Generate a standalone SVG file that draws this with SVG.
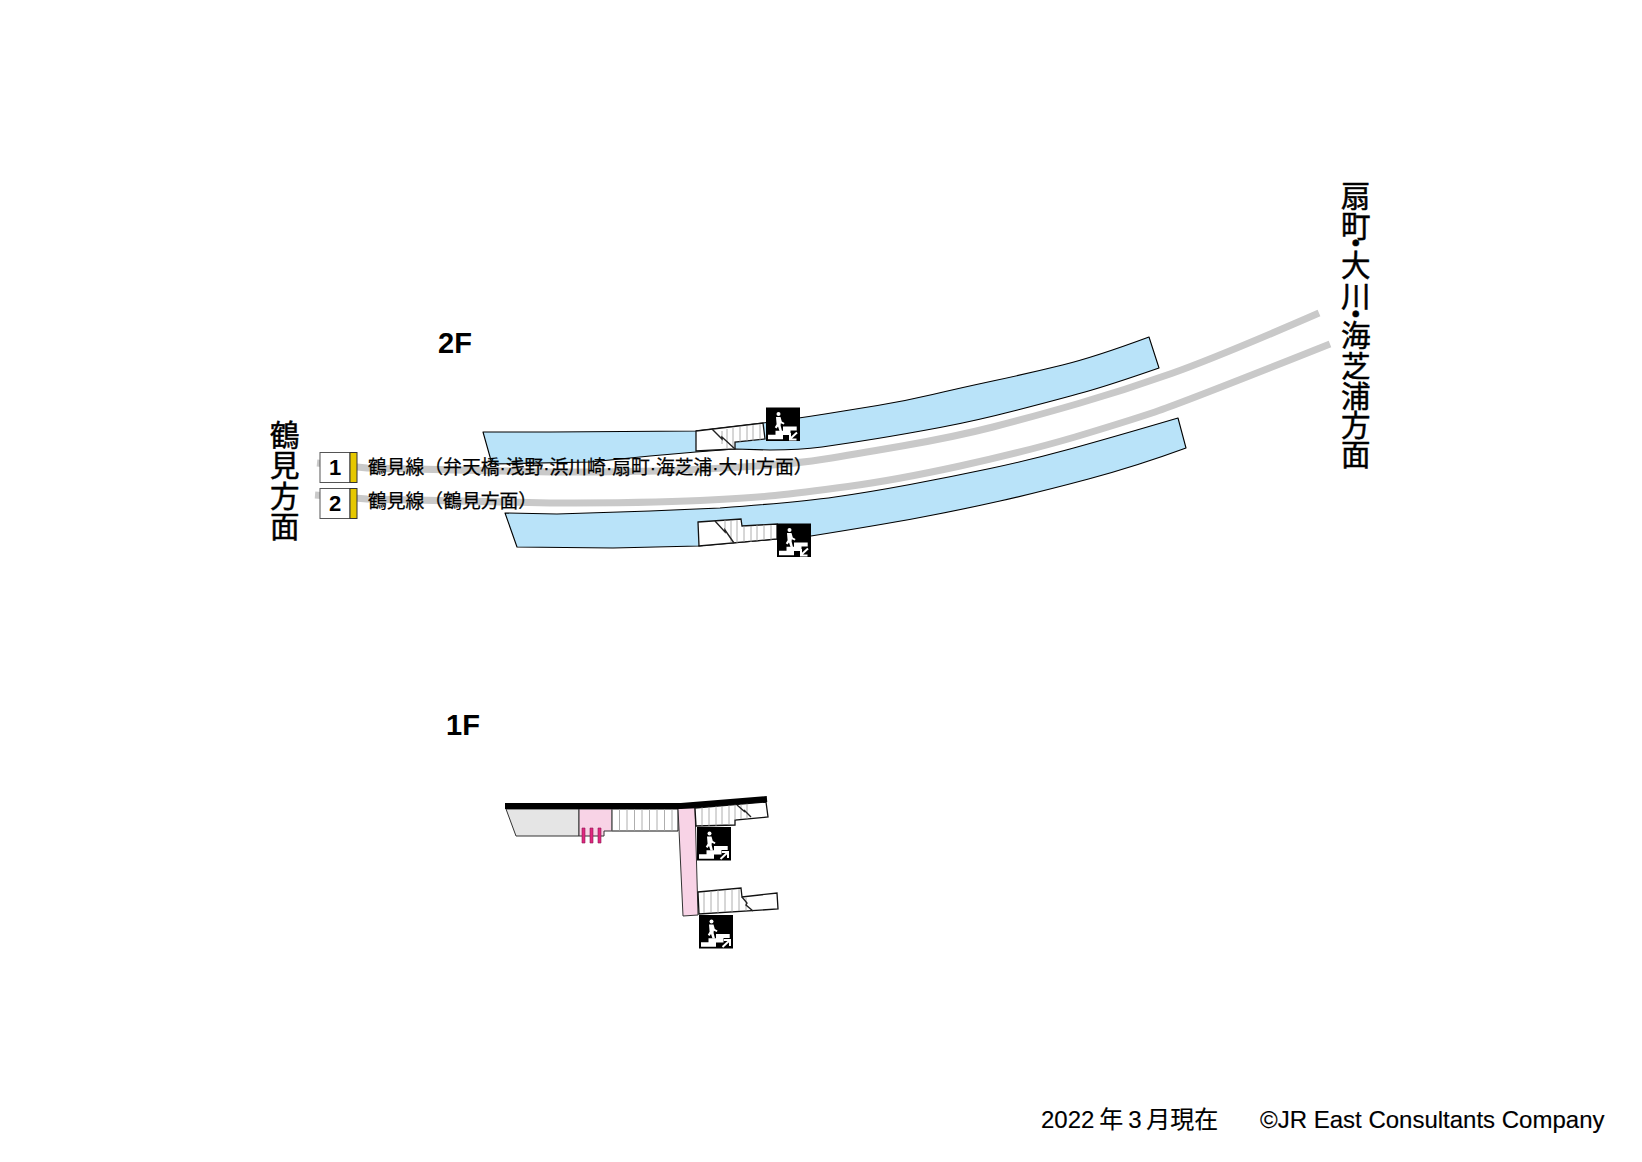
<svg xmlns="http://www.w3.org/2000/svg" xmlns:xlink="http://www.w3.org/1999/xlink" width="1642" height="1162" viewBox="0 0 1642 1162">
<style>
text{font-family:"Liberation Sans","Noto Sans CJK JP",sans-serif;fill:#000}
.plat{fill:#b9e3f9;stroke:#000;stroke-width:1.1;stroke-linejoin:round}
.track{fill:none;stroke:#c9c9c9;stroke-width:7}
.stair{fill:#fff;stroke:#111;stroke-width:1.3}
.hatch{fill:none;stroke:#999;stroke-width:.8}
.diag{fill:none;stroke:#222;stroke-width:1.4}
.pink{fill:#f8d3e6;stroke:#333;stroke-width:1}
.box{fill:#fff;stroke:#555;stroke-width:1}
.yel{fill:#e6c800;stroke:#333;stroke-width:1}
.lbl{font-size:18.8px;stroke:#000;stroke-width:.25}
.big{font-size:29.5px;stroke:#000;stroke-width:.5}
.fl{font-size:29px;font-weight:700}
.no{font-size:22px;font-weight:700;text-anchor:middle}
.foot{font-size:24px;stroke:#000;stroke-width:.15}
.gate{fill:#e0287f;stroke:#8a1a50;stroke-width:.6}
</style>
<defs>
<g id="ic-base">
<rect width="34" height="33.500" fill="#000"/>
<circle cx="12.500" cy="6.500" r="2" fill="#fff"/>
<path d="M10 9.500 L14.500 9.500 L15.800 14 L18.500 15.500 L17.800 17 L14.800 15.800 L14.600 18 L16 23.500 L13.500 23.500 L12 19 L10.500 21 L8.800 19.800 L10.600 16.800 Z" fill="#fff"/>
<path d="M2 31.700 V27.300 H9.500 V23.300 H17 V19 H30.700 V23 H24.500 V27.500 H17 V31.700 Z" fill="#fff"/>
</g>
<g id="ic-up"><use xlink:href="#ic-base"/><path d="M23.500 32 L30.500 25.500 M24.800 25 H31 V31" fill="none" stroke="#fff" stroke-width="2"/></g>
<g id="ic-down"><use xlink:href="#ic-base"/><path d="M31 25 L24 31.500 M24 25.500 V32 H30.500" fill="none" stroke="#fff" stroke-width="2"/></g>
</defs>
<rect width="1642" height="1162" fill="#fff"/>

<g id="connectors">
<path class="track" d="M317 463 L367 468 L550 472 Q640 472 685 470 Q730 468 765 465.500 Q800 463 825 459 Q850 455 902 446 Q954 437 993 427 Q1032 417 1078.500 403.500 Q1125 390 1171.500 373.500 Q1218 357 1319 313"/>
<path class="track" d="M315 495 L367 499 L550 503 Q650 503 700 500.500 Q750 498 775 495.500 Q800 493 848 486.500 Q896 480 960 466 Q1024 452 1075 437 Q1125 422 1155 412 Q1187 401 1330 344"/>
</g>

<g id="platform-1">
<path class="plat" d="M483 432 L550 432 L696 431 L763 423 Q800 418 825 414 Q850 410 877.500 405.500 Q905 401 932.500 394.500 Q960 388 995 380.500 Q1030 373 1062.500 365 Q1095 357 1149 337 L1159 368 Q1110 385 1085 392 Q1060 399 1017.500 410 Q975 421 940 427.500 Q905 434 877.500 438.500 Q850 443 822 447 Q800 450 770 450 L735 449 L696 452 L650 456 L590 462 L492 464 Z"/>
<path class="stair" d="M696 431 L763 423 L765 439 L735 442 L735 449 L696 451 Z"/>
<path class="hatch" d="M722 431V444M727 429V448M733 428V449M740 427V442M747 426V441M753 425V441M760 424V440"/>
<path class="diag" d="M712 429 L722 439 L722 437 L735 449"/>
<use xlink:href="#ic-down" x="766" y="407.500"/>
</g>
<g id="platform-2">
<path class="plat" d="M505 513 L557 514 L650 511 L720 508 Q800 502 835 497 Q870 492 910 484.500 Q950 477 990 468.500 Q1030 460 1070 449 Q1110 438 1178 418 L1186 448 Q1137 466 1088.500 479 Q1040 492 1000 501 Q960 510 920 517.500 Q880 525 811 536 L698 546 L613 548 L517 547 Z"/>
<path class="stair" d="M698 522 L741 519 L742 526 L777 524 L777 539 L699 546 Z"/>
<path class="hatch" d="M725 520V532M731 520V542M737 520V543M744 526V542M751 526V542M757 525V541M764 525V540M771 525V540"/>
<path class="diag" d="M715 521 L725 532 L725 530 L734 543"/>
<use xlink:href="#ic-down" x="777" y="523.500"/>
</g>

<g id="floor-1">
<path d="M506 809 L516 836 L579 836 L579 809 Z" fill="#e5e5e5" stroke="#333" stroke-width="1"/>
<path class="pink" d="M579 809 H612 V831 H604 V836 H579 Z"/>
<path d="M612 809 H678 V831 H612 Z" fill="#fff" stroke="#111" stroke-width="1"/>
<path class="hatch" d="M612 809V831M619.500 809V831M627 809V831M634.500 809V831M642 809V831M649.500 809V831M657 809V831M664.500 809V831M672 809V831"/>
<path class="gate" d="M582 828h3v15h-3zM590 828h3v15h-3zM598 828h3v15h-3z"/>
<path class="pink" d="M678 808 L695 808 L698 915 L683 916 Z"/>
<path class="stair" d="M695 808 L766 802 L768 817 L735 820 L735 825 L696 826 Z"/>
<path class="hatch" d="M702 807V826M709 807V826M716 806V826M722 806V825M729 805V825M735 804V820M741 804V819M747 803V819"/>
<path class="diag" d="M737 805 L745 812 L744 810 L751 817"/>
<path class="stair" d="M698 892 L741 888 L742 897 L777 893 L778 909 L699 914 Z"/>
<path class="hatch" d="M704 892V913M711 891V913M718 890V913M725 890V912M732 889V912M739 889V911M746 898V911"/>
<path class="diag" d="M742 897 L747 903 L746 905 L753 911"/>
<path d="M505 806 L681 806 L767 799" fill="none" stroke="#000" stroke-width="6"/>
<use xlink:href="#ic-up" x="697" y="827"/>
<use xlink:href="#ic-up" x="699" y="915"/>
</g>

<g id="track-1-sign">
<rect class="box" x="320" y="452.500" width="30" height="30"/>
<rect class="yel" x="350" y="452.500" width="7" height="30"/>
<text class="no" x="335" y="475">1</text>
<text class="lbl" x="368" y="474">鶴見線（弁天橋·浅野·浜川崎·扇町·海芝浦·大川方面）</text>
</g>
<g id="track-2-sign">
<rect class="box" x="320" y="488.500" width="30" height="30"/>
<rect class="yel" x="350" y="488.500" width="7" height="30"/>
<text class="no" x="335" y="511">2</text>
<text class="lbl" x="368" y="508">鶴見線（鶴見方面）</text>
</g>

<g id="labels">
<text class="fl" x="438" y="353">2F</text>
<text class="fl" x="446" y="735">1F</text>
<text class="big" x="270 270 270 270" y="446 476 507 537">鶴見方面</text>
<text class="big" x="1341 1341 1341 1341 1341 1341 1341 1341 1341 1341 1341" y="207 237 254 276 307 325 346 377 407 436 465">扇町・大川・海芝浦方面</text>
<text class="foot" x="1041" y="1128" word-spacing="-1.800">2022 年 3 月現在</text>
<text class="foot" x="1260" y="1128">©JR East Consultants Company</text>
</g>
</svg>
